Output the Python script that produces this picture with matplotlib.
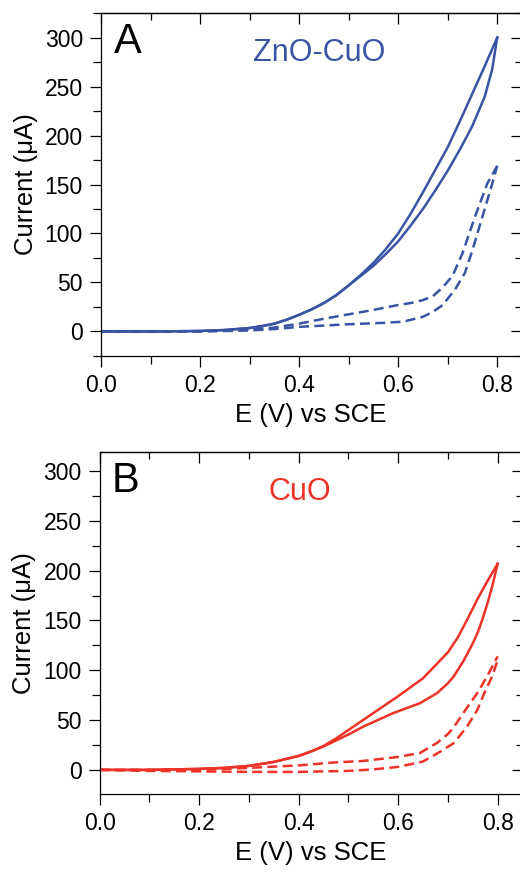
import numpy as np
import matplotlib.pyplot as plt
from matplotlib.ticker import MultipleLocator, NullFormatter

plt.rcParams['font.family'] = ['Liberation Sans', 'DejaVu Sans']

BLUE = "#3A54A4"
RED = "#ED3228"

# ---- ZnO-CuO (panel A) ----
# solid loop: upper / lower branch
zc_solid_up_e = [0.0, 0.1, 0.2, 0.25, 0.3, 0.325, 0.35, 0.375, 0.4, 0.425, 0.45, 0.475, 0.5, 0.525,
                 0.55, 0.575, 0.6, 0.625, 0.65, 0.675, 0.7, 0.725, 0.75, 0.775, 0.8]
zc_solid_up_i = [0, 0, 0.5, 1.5, 3.5, 5.5, 8, 12, 17, 22.5, 29, 37, 47, 58,
                 70, 84, 100, 120, 142, 165, 188, 215, 243, 271, 300]
zc_solid_lo_e = [0.0, 0.1, 0.2, 0.25, 0.3, 0.325, 0.35, 0.375, 0.4, 0.425, 0.45, 0.475, 0.5, 0.525,
                 0.55, 0.575, 0.6, 0.625, 0.65, 0.675, 0.7, 0.725, 0.75, 0.775, 0.79, 0.8]
zc_solid_lo_i = [0, 0, 0.5, 1.5, 3.5, 5.5, 8, 12, 17, 22.5, 29, 37, 47, 57,
                 67, 79, 92, 108, 125, 144, 164, 186, 210, 240, 268, 300]
# dashed loop
zc_dash_up_e = [0.0, 0.1, 0.2, 0.25, 0.3, 0.35, 0.4, 0.45, 0.5, 0.55, 0.6, 0.625, 0.65, 0.67,
                0.69, 0.71, 0.73, 0.755, 0.78, 0.8]
zc_dash_up_i = [0, 0, 0.3, 1, 2, 4, 8, 13, 17.5, 22, 27, 29, 32, 36,
                45, 57, 80, 117, 151, 169]
zc_dash_lo_e = [0.0, 0.1, 0.2, 0.25, 0.3, 0.35, 0.4, 0.5, 0.57, 0.61, 0.65, 0.67, 0.69, 0.715,
                0.735, 0.75, 0.77, 0.79, 0.8]
zc_dash_lo_i = [0, 0, 0, 0.5, 1, 2.5, 4.7, 7.4, 8.8, 10, 15, 20, 27, 43,
                60, 83, 117, 151, 169]

# ---- CuO (panel B) ----
cu_solid_up_e = [0.0, 0.1, 0.2, 0.25, 0.3, 0.35, 0.4, 0.425, 0.45, 0.475, 0.5, 0.55, 0.6, 0.65,
                 0.7, 0.72, 0.74, 0.76, 0.78, 0.8]
cu_solid_up_i = [0, 0, 1, 2, 4, 8, 14, 18.5, 24, 31.5, 40, 57, 74, 92,
                 118, 133, 152, 172, 190, 207]
cu_solid_lo_e = [0.0, 0.1, 0.2, 0.25, 0.3, 0.35, 0.4, 0.425, 0.45, 0.475, 0.5, 0.53, 0.55, 0.59,
                 0.644, 0.678, 0.7, 0.712, 0.732, 0.75, 0.76, 0.77, 0.78, 0.79, 0.8]
cu_solid_lo_i = [0, 0, 1, 2, 4, 8, 14, 18.5, 23.5, 29.5, 35.5, 43.5, 48, 57,
                 67, 77, 87, 94, 110, 127, 138, 152, 168, 186, 207]
cu_dash_up_e = [0.0, 0.1, 0.2, 0.3, 0.35, 0.4, 0.47, 0.53, 0.6, 0.644, 0.678, 0.7, 0.712, 0.735,
                0.759, 0.779, 0.8]
cu_dash_up_i = [0, 0, 0, 2, 3.3, 4.5, 7.4, 9, 13, 17, 27, 36, 43, 60,
                77, 94, 114]
cu_dash_lo_e = [0.0, 0.1, 0.2, 0.3, 0.4, 0.5, 0.55, 0.6, 0.65, 0.685, 0.712, 0.738, 0.759, 0.773,
                0.789, 0.8]
cu_dash_lo_i = [0, -1, -1.5, -2, -2, -1, 0.5, 3, 8.4, 18.4, 27, 43, 60, 77,
                94, 110]

LW = 1.8
DASH = (4.0, 2.1)


def style_axes(ax, ylim):
    ax.set_xlim(0, 0.848)
    ax.set_ylim(*ylim)
    ax.xaxis.set_major_locator(MultipleLocator(0.2))
    ax.xaxis.set_minor_locator(MultipleLocator(0.1))
    ax.yaxis.set_major_locator(MultipleLocator(50))
    ax.yaxis.set_minor_locator(MultipleLocator(25))
    ax.tick_params(which='both', direction='out', width=0.9, labelsize=16.5, pad=5)
    ax.tick_params(which='major', length=8)
    ax.tick_params(which='minor', length=5.5)
    for s in ax.spines.values():
        s.set_linewidth(0.9)

    # inward ticks on top and right, no labels
    top = ax.secondary_xaxis('top')
    top.xaxis.set_major_locator(MultipleLocator(0.2))
    top.xaxis.set_minor_locator(MultipleLocator(0.1))
    top.xaxis.set_major_formatter(NullFormatter())
    top.tick_params(which='both', direction='in', width=0.9)
    top.tick_params(which='major', length=8)
    top.tick_params(which='minor', length=5)
    top.spines['top'].set_linewidth(0.9)

    right = ax.secondary_yaxis('right')
    right.yaxis.set_major_locator(MultipleLocator(50))
    right.yaxis.set_minor_locator(MultipleLocator(25))
    right.yaxis.set_major_formatter(NullFormatter())
    right.tick_params(which='both', direction='in', width=0.9)
    right.tick_params(which='major', length=7.5)
    right.tick_params(which='minor', length=4.5)
    right.spines['right'].set_linewidth(0.9)

    ax.set_xlabel("E (V) vs SCE", fontsize=18.5, labelpad=4)
    ax.set_ylabel("Current (\u03bcA)", fontsize=18.5, labelpad=5)


fig = plt.figure(figsize=(5.2, 8.74), dpi=100)
ax_a = fig.add_axes([0.1942, 0.5927, 0.8077, 0.3924])
ax_b = fig.add_axes([0.1917, 0.0912, 0.8112, 0.3920])

# panel A
ax_a.plot(zc_solid_up_e, zc_solid_up_i, color=BLUE, lw=LW)
ax_a.plot(zc_solid_lo_e, zc_solid_lo_i, color=BLUE, lw=LW)
ax_a.plot(zc_dash_up_e, zc_dash_up_i, color=BLUE, lw=LW, ls=(0, DASH))
ax_a.plot(zc_dash_lo_e, zc_dash_lo_i, color=BLUE, lw=LW, ls=(0, DASH))
style_axes(ax_a, (-25, 325))
ax_a.text(0.026, 284, "A", fontsize=30, ha='left', va='baseline')
ax_a.text(0.44, 276, "ZnO-CuO", fontsize=22, color=BLUE, ha='center', va='baseline')

# panel B
ax_b.plot(cu_solid_up_e, cu_solid_up_i, color=RED, lw=LW)
ax_b.plot(cu_solid_lo_e, cu_solid_lo_i, color=RED, lw=LW)
ax_b.plot(cu_dash_up_e, cu_dash_up_i, color=RED, lw=LW, ls=(0, DASH))
ax_b.plot(cu_dash_lo_e, cu_dash_lo_i, color=RED, lw=LW, ls=(0, DASH))
style_axes(ax_b, (-24.5, 319.5))
ax_b.text(0.025, 279, "B", fontsize=30, ha='left', va='baseline')
ax_b.text(0.402, 271, "CuO", fontsize=22, color=RED, ha='center', va='baseline')

fig.savefig("out.png", dpi=100)
